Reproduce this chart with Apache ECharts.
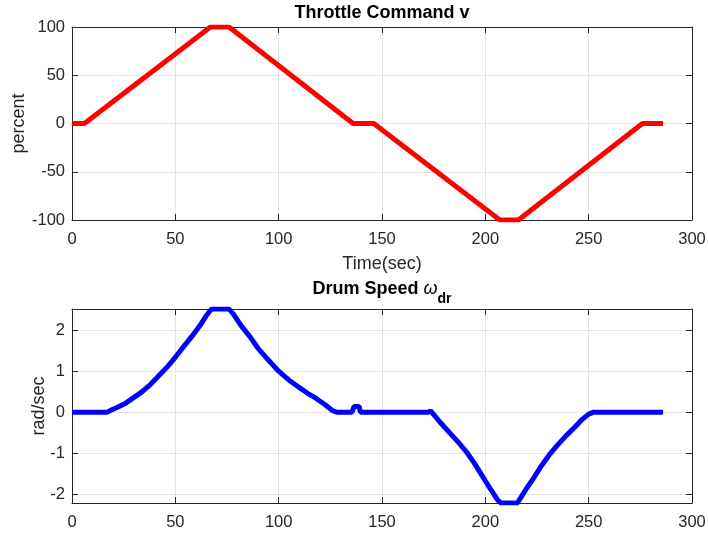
<!DOCTYPE html>
<html>
<head>
<meta charset="utf-8">
<script src="https://cdn.jsdelivr.net/npm/echarts@6/dist/echarts.min.js"></script>
<style>
  html, body { margin: 0; padding: 0; background: #ffffff; }
  #chart { width: 708px; height: 533px; }
</style>
</head>
<body>
<div id="chart"></div>
<script>
// Throttle command breakpoints (sec, percent)
const throttleTime = [0, 6, 67, 76, 136, 146, 207, 216, 276, 286];
const throttleValue = [0, 0, 100, 100, 0, 0, -100, -100, 0, 0];

// Drum speed (sec, rad/sec)
const drumTime = [0, 17, 19, 22, 26, 30, 34, 38, 42, 46, 50, 54, 58, 62, 65, 67.5, 76, 78, 82, 86, 90, 94, 100, 105, 110, 114, 118, 122, 126, 128, 135.5, 136.5, 139, 139.5, 172.5, 173.5, 178, 183, 187, 191, 195, 199, 203, 206, 207.5, 215.5, 217, 220, 223, 227, 231, 235, 239, 243, 247, 250, 252.5, 286];
const drumValue = [0, 0, 0.05, 0.12, 0.22, 0.36, 0.5, 0.68, 0.89, 1.1, 1.34, 1.6, 1.85, 2.12, 2.36, 2.52, 2.52, 2.4, 2.1, 1.85, 1.56, 1.33, 1.0, 0.78, 0.6, 0.46, 0.34, 0.2, 0.04, 0, 0, 0.14, 0.14, 0, 0, 0.03, -0.24, -0.52, -0.74, -0.98, -1.27, -1.6, -1.92, -2.15, -2.22, -2.22, -2.1, -1.86, -1.64, -1.32, -1.04, -0.8, -0.58, -0.38, -0.17, -0.05, 0, 0];

const xTicksMax = 300;
const throttleRange = [-100, 100];
const drumRange = [-2.22, 2.52];

const font = 'Arial, "Liberation Sans", Helvetica, sans-serif';
const ink = '#262626';
const gridColor = '#e3e3e3';
const tickFont = 16.5;
const nameFont = 18;

const chart = echarts.init(document.getElementById('chart'));

const pair = (xs, ys) => xs.map((x, i) => [x, ys[i]]);

// primary axis style (labels, inward ticks, light grid)
function mainX(gridIndex, extra) {
  return Object.assign({
    type: 'value', gridIndex, min: 0, max: xTicksMax, interval: 50,
    axisLine: { onZero: false, lineStyle: { color: ink, width: 1 } },
    axisTick: { inside: true, length: 6, lineStyle: { color: ink } },
    axisLabel: { color: ink, fontSize: tickFont, fontFamily: font, margin: 11 },
    splitLine: { show: true, lineStyle: { color: gridColor, width: 1 } }
  }, extra || {});
}
// mirror axis to close the box
function boxX(gridIndex) {
  return {
    type: 'value', gridIndex, position: 'top', min: 0, max: xTicksMax, interval: 50,
    axisLine: { onZero: false, lineStyle: { color: ink, width: 1 } },
    axisTick: { inside: true, length: 6, lineStyle: { color: ink } },
    axisLabel: { show: false }, splitLine: { show: false }
  };
}

chart.setOption({
  backgroundColor: '#ffffff',
  animation: false,
  title: [
    {
      text: 'Throttle Command v', left: 382, top: 4, textAlign: 'center', padding: 0,
      textStyle: { fontFamily: font, fontSize: 18, fontWeight: 'bold', color: '#000' }
    },
    {
      text: '{b|Drum Speed }{w|ω}{s|dr}', left: 382, top: 272, textAlign: 'center', padding: 0,
      textStyle: {
        fontFamily: font, fontSize: 18, color: '#000',
        rich: {
          b: { fontFamily: font, fontSize: 18, fontWeight: 'bold', color: '#000' },
          w: { fontFamily: font, fontSize: 18, fontWeight: 'normal', fontStyle: 'italic', color: '#000' },
          s: { fontFamily: font, fontSize: 14, fontWeight: 'bold', color: '#000', padding: [20, 0, 0, 0] }
        }
      }
    }
  ],
  grid: [
    { left: 72, top: 27, width: 620, height: 193, outerBoundsMode: 'none', containLabel: false },
    { left: 72, top: 309, width: 620, height: 194, outerBoundsMode: 'none', containLabel: false }
  ],
  xAxis: [
    mainX(0, {
      name: 'Time(sec)', nameLocation: 'middle', nameGap: 35,
      nameTextStyle: { color: ink, fontSize: nameFont, fontFamily: font }
    }),
    boxX(0),
    mainX(1),
    boxX(1)
  ],
  yAxis: [
    {
      type: 'value', gridIndex: 0, min: throttleRange[0], max: throttleRange[1], interval: 50,
      name: 'percent', nameLocation: 'middle', nameGap: 44, nameMoveOverlap: false,
      nameTextStyle: { color: ink, fontSize: nameFont, fontFamily: font },
      axisLine: { onZero: false, lineStyle: { color: ink } },
      axisTick: { inside: true, length: 6, lineStyle: { color: ink } },
      axisLabel: { color: ink, fontSize: tickFont, fontFamily: font, margin: 7 },
      splitLine: { show: true, lineStyle: { color: gridColor } }
    },
    {
      type: 'value', gridIndex: 0, position: 'right', min: throttleRange[0], max: throttleRange[1], interval: 50,
      axisLine: { onZero: false, lineStyle: { color: ink } },
      axisTick: { inside: true, length: 6, lineStyle: { color: ink } },
      axisLabel: { show: false }, splitLine: { show: false }
    },
    {
      type: 'value', gridIndex: 1, min: drumRange[0], max: drumRange[1],
      name: 'rad/sec', nameLocation: 'middle', nameGap: 24, nameMoveOverlap: false,
      nameTextStyle: { color: ink, fontSize: nameFont, fontFamily: font },
      axisLine: { onZero: false, lineStyle: { color: ink } },
      axisTick: { inside: true, length: 6, lineStyle: { color: ink } },
      axisLabel: { color: ink, fontSize: tickFont, fontFamily: font, margin: 7, showMinLabel: false, showMaxLabel: false },
      splitLine: { show: true, lineStyle: { color: gridColor } }
    },
    {
      type: 'value', gridIndex: 1, position: 'right', min: drumRange[0], max: drumRange[1],
      axisLine: { onZero: false, lineStyle: { color: ink } },
      axisTick: { inside: true, length: 6, lineStyle: { color: ink } },
      axisLabel: { show: false }, splitLine: { show: false }
    }
  ],
  series: [
    {
      type: 'line', xAxisIndex: 0, yAxisIndex: 0,
      data: pair(throttleTime, throttleValue),
      showSymbol: false, lineStyle: { color: '#ff0000', width: 5 },
      itemStyle: { color: '#ff0000' }
    },
    {
      type: 'line', xAxisIndex: 2, yAxisIndex: 2,
      data: pair(drumTime, drumValue),
      showSymbol: false, lineStyle: { color: '#0000ff', width: 5 },
      itemStyle: { color: '#0000ff' }
    }
  ]
});
</script>
</body>
</html>
